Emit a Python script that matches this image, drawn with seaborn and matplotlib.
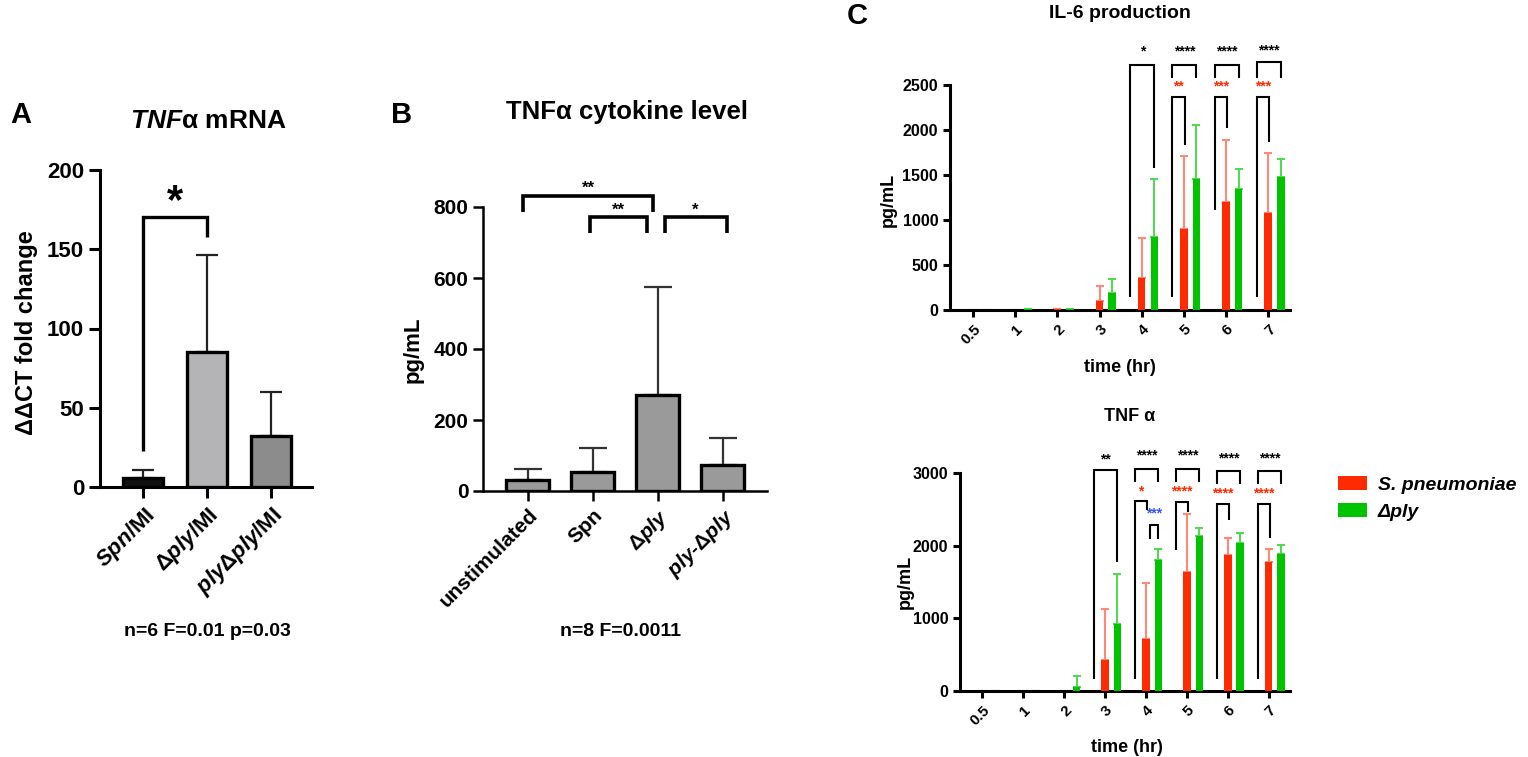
import numpy as np
import pandas as pd
import matplotlib
matplotlib.use("Agg")
import matplotlib.pyplot as plt
from matplotlib.patches import Patch
from matplotlib.font_manager import FontProperties
import seaborn as sns

# ---------------- data ----------------
A_categories = ["Spn/MI", "Δply/MI", "plyΔply/MI"]
A_ticklabels = [r"$\mathit{Spn}$/MI", r"Δ$\mathit{ply}$/MI", r"$\mathit{ply}$Δ$\mathit{ply}$/MI"]
A_means = [5.7, 84.9, 31.9]
A_sd = [5.2, 61.5, 27.8]

B_categories = ["unstimulated", "Spn", "Δply", "ply-Δply"]
B_ticklabels = ["unstimulated", "Spn", r"Δ$\mathit{ply}$", r"$\mathit{ply}$-Δ$\mathit{ply}$"]
B_means = [30, 54, 270, 72]
B_sd = [33, 66, 304, 76]

C_times = ["0.5", "1", "2", "3", "4", "5", "6", "7"]
C_strains = ["S. pneumoniae", "Δply"]
IL6_spn = [0, 5, 15, 100, 352, 903, 1195, 1080]
IL6_spn_sd = [0, 0, 0, 166, 444, 810, 692, 659]
IL6_dply = [5, 10, 10, 185, 815, 1461, 1350, 1480]
IL6_dply_sd = [0, 0, 0, 163, 635, 600, 215, 200]
TNF_spn = [0, 0, 0, 422, 716, 1638, 1867, 1769]
TNF_spn_sd = [0, 0, 0, 711, 775, 793, 243, 183]
TNF_dply = [0, 0, 55, 917, 1798, 2128, 2041, 1892]
TNF_dply_sd = [0, 0, 145, 698, 161, 115, 133, 119]

# significance annotations: (time index, bracket top, left leg bottom, right leg bottom, stars, star y)
IL6_black = [(4, 2722, 148, 1574, "*", 2870), (5, 2722, 2574, 2574, "****", 2870),
             (6, 2722, 2574, 2574, "****", 2870), (7, 2759, 2574, 2574, "****", 2889)]
IL6_red = [(5, 2370, 148, 1833, "**", 2482), (6, 2370, 1111, 2019, "***", 2482),
           (7, 2370, 148, 1870, "***", 2482)]
TNF_black = [(3, 3046, 170, 1775, "**", 3183), (4, 3060, 2876, 2876, "****", 3243),
             (5, 3060, 2876, 2876, "****", 3243), (6, 3028, 2850, 2850, "****", 3197),
             (7, 3028, 2850, 2850, "****", 3197)]
TNF_red = [(4, 2615, 170, 2486, "*", 2752), (5, 2601, 1936, 2463, "****", 2752),
           (6, 2569, 170, 2349, "****", 2725), (7, 2569, 170, 2111, "****", 2725)]
TNF_blue = [(4, 2280, 2096, 2096, "***", 2440)]

# ---------------- style ----------------
sns.set_theme(style="ticks")
plt.rcParams["font.family"] = ["Liberation Sans", "DejaVu Sans"]
plt.rcParams["font.weight"] = "bold"
plt.rcParams["axes.labelweight"] = "bold"
plt.rcParams["text.color"] = "black"
plt.rcParams["axes.labelcolor"] = "black"
plt.rcParams["xtick.color"] = "black"
plt.rcParams["ytick.color"] = "black"
plt.rcParams["mathtext.fontset"] = "custom"
plt.rcParams["mathtext.rm"] = "Liberation Sans:bold"
plt.rcParams["mathtext.it"] = "Liberation Sans:italic:bold"
plt.rcParams["mathtext.bf"] = "Liberation Sans:bold"

RED = "#ff2a00"
GREEN = "#00c400"
RED_ERR = "#ff8877"
GREEN_ERR = "#55d855"

W, H = 1528, 757
fig = plt.figure(figsize=(W / 100, H / 100), dpi=100)


def add_ax(l, t, r, b):
    return fig.add_axes([l / W, 1 - b / H, (r - l) / W, (b - t) / H])


def ftext(x, y, s, **kw):
    kw.setdefault("ha", "center")
    kw.setdefault("va", "center")
    kw.setdefault("fontweight", "bold")
    kw.setdefault("color", "black")
    fig.text(x / W, 1 - y / H, s, **kw)


def style_axis(ax, lw, tlen, lsize):
    for s in ["top", "right"]:
        ax.spines[s].set_visible(False)
    for s in ["left", "bottom"]:
        ax.spines[s].set_linewidth(lw)
        ax.spines[s].set_color("black")
    ax.tick_params(axis="both", width=lw, length=tlen, color="black", labelsize=lsize,
                   labelcolor="black", direction="out")
    ax.set_xlabel("")
    ax.set_ylabel("")
    ax.set_facecolor("none")
    for t in ax.get_yticklabels():
        t.set_fontweight("bold")


def bracket(ax, x1, x2, top, b1, b2, color="black", lw=1.5):
    ax.plot([x1, x1, x2, x2], [b1, top, top, b2], color=color, lw=lw, clip_on=False,
            solid_joinstyle="miter", solid_capstyle="butt", zorder=5)


# ---------------- panel A ----------------
axA = add_ax(100, 170, 312, 487)
dfA = pd.DataFrame({"group": A_categories, "value": A_means})
sns.barplot(data=dfA, x="group", y="value", hue="group", order=A_categories,
            palette=["#111111", "#b4b4b6", "#8c8c8c"], saturation=1, width=0.62,
            edgecolor="black", linewidth=2.4, legend=False, ax=axA, zorder=3)
axA.errorbar(np.arange(3), A_means, yerr=[np.zeros(3), A_sd], fmt="none", ecolor="#222222",
             elinewidth=1.6, capsize=8, capthick=1.6, zorder=2)
axA.set_ylim(0, 200)
axA.set_xlim(-0.67, 2.64)
axA.set_yticks([0, 50, 100, 150, 200])
style_axis(axA, 2.2, 8, 16)
axA.set_xticks(range(3))
axA.set_xticklabels(A_ticklabels, rotation=45, ha="right", rotation_mode="anchor",
                    fontsize=16, fontweight="bold")
bracket(axA, 0, 1, 170.6, 22.5, 158, lw=2.4)
axA.text(0.5, 180, "*", ha="center", va="center", fontsize=30, fontweight="bold",
         color="black", clip_on=False)
ftext(10, 115, "A", fontsize=21, ha="left")
ftext(208, 121, r"$\mathit{TNF}$α mRNA", fontsize=19)
ftext(27, 333, "ΔΔCT fold change", fontsize=17, rotation=90)
ftext(207, 632, "n=6 F=0.01 p=0.03", fontsize=14)

# ---------------- panel B ----------------
axB = add_ax(483, 207, 767, 491)
dfB = pd.DataFrame({"group": B_categories, "value": B_means})
sns.barplot(data=dfB, x="group", y="value", hue="group", order=B_categories,
            palette=["#9a9a9a"] * 4, saturation=1, width=0.66, edgecolor="black",
            linewidth=2.4, legend=False, ax=axB, zorder=3)
axB.errorbar(np.arange(4), B_means, yerr=[np.zeros(4), B_sd], fmt="none", ecolor="#333333",
             elinewidth=1.6, capsize=10, capthick=1.6, zorder=2)
axB.set_ylim(0, 800)
axB.set_xlim(-0.69, 3.68)
axB.set_yticks([0, 200, 400, 600, 800])
style_axis(axB, 1.8, 7, 15)
axB.set_xticks(range(4))
axB.set_xticklabels(B_ticklabels, rotation=45, ha="right", rotation_mode="anchor",
                    fontsize=15, fontweight="bold")
bracket(axB, -0.07, 1.92, 830, 785, 785, lw=2.6)
bracket(axB, 0.96, 1.83, 773, 726, 726, lw=2.6)
bracket(axB, 2.11, 3.06, 773, 726, 726, lw=2.6)
axB.text(0.93, 852, "**", ha="center", va="center", fontsize=12, color="black", clip_on=False)
axB.text(1.40, 792, "**", ha="center", va="center", fontsize=12, color="black", clip_on=False)
axB.text(2.58, 792, "*", ha="center", va="center", fontsize=12, color="black", clip_on=False)
ftext(402, 115, "B", fontsize=21)
ftext(627, 112, "TNFα cytokine level", fontsize=18.5)
ftext(413, 350, "pg/mL", fontsize=16, rotation=90)
ftext(620, 632, "n=8 F=0.0011", fontsize=14)


# ---------------- panel C ----------------
def time_panel(ax, spn, spn_sd, dply, dply_sd, ymax, ystep, black, red, blue):
    df = pd.DataFrame({
        "time": C_times * 2,
        "strain": [C_strains[0]] * len(C_times) + [C_strains[1]] * len(C_times),
        "value": list(spn) + list(dply),
    })
    sns.barplot(data=df, x="time", y="value", hue="strain", order=C_times,
                hue_order=C_strains, palette=[RED, GREEN], saturation=1, width=0.6,
                gap=0.4, linewidth=0, legend=False, ax=ax, zorder=3)
    for cont, sds, ec in zip(ax.containers, [spn_sd, dply_sd], [RED_ERR, GREEN_ERR]):
        xs = [b.get_x() + b.get_width() / 2 for b in cont]
        ys = [b.get_height() for b in cont]
        ax.errorbar(xs, ys, yerr=[np.zeros(len(sds)), sds], fmt="none", ecolor=ec,
                    elinewidth=1.5, capsize=3, capthick=1.5, zorder=2)
    ax.set_ylim(0, ymax)
    ax.set_xlim(-0.70, 7.37)
    ax.set_yticks(np.arange(0, ymax + 1, ystep))
    style_axis(ax, 2.2, 5, 11.5)
    ax.set_xticks(np.arange(len(C_times)) - 0.15)
    ax.set_xticklabels(C_times, rotation=45, ha="right", rotation_mode="anchor",
                       fontsize=11, fontweight="bold")
    for i, top, b1, b2, lab, ly in black:
        bracket(ax, i - 0.42, i + 0.15, top, b1, b2)
        ax.text(i - 0.135, ly, lab, ha="center", va="center", fontsize=10, color="black",
                clip_on=False)
    for i, top, b1, b2, lab, ly in red:
        bracket(ax, i - 0.42, i - 0.12, top, b1, b2)
        ax.text(i - 0.27, ly, lab, ha="center", va="center", fontsize=10, color=RED,
                clip_on=False)
    for i, top, b1, b2, lab, ly in blue:
        bracket(ax, i - 0.05, i + 0.14, top, b1, b2)
        ax.text(i + 0.05, ly, lab, ha="center", va="center", fontsize=10, color="#3355ff",
                clip_on=False)


axC1 = add_ax(950, 85, 1290, 310)
time_panel(axC1, IL6_spn, IL6_spn_sd, IL6_dply, IL6_dply_sd, 2500, 500,
           IL6_black, IL6_red, [])
axC2 = add_ax(960, 473, 1290, 691)
time_panel(axC2, TNF_spn, TNF_spn_sd, TNF_dply, TNF_dply_sd, 3000, 1000,
           TNF_black, TNF_red, TNF_blue)

ftext(857, 16, "C", fontsize=21)
ftext(1120, 13, "IL-6 production", fontsize=14)
ftext(888, 200, "pg/mL", fontsize=13, rotation=90)
ftext(1120, 368, "time (hr)", fontsize=13)
ftext(1130, 417, "TNF α", fontsize=13)
ftext(905, 582, "pg/mL", fontsize=13, rotation=90)
ftext(1127, 747, "time (hr)", fontsize=13)

handles = [Patch(facecolor=RED, edgecolor="none"), Patch(facecolor=GREEN, edgecolor="none")]
fig.legend(handles, C_strains, loc="upper left", bbox_to_anchor=(1338 / W, 1 - 476 / H),
           frameon=False, borderpad=0, borderaxespad=0, handlelength=1.5,
           handleheight=0.75, handletextpad=0.55, labelspacing=0.45,
           labelcolor="black",
           prop=FontProperties(family="Liberation Sans", weight="bold", style="italic",
                               size=14))

fig.savefig("out.png", dpi=100)
